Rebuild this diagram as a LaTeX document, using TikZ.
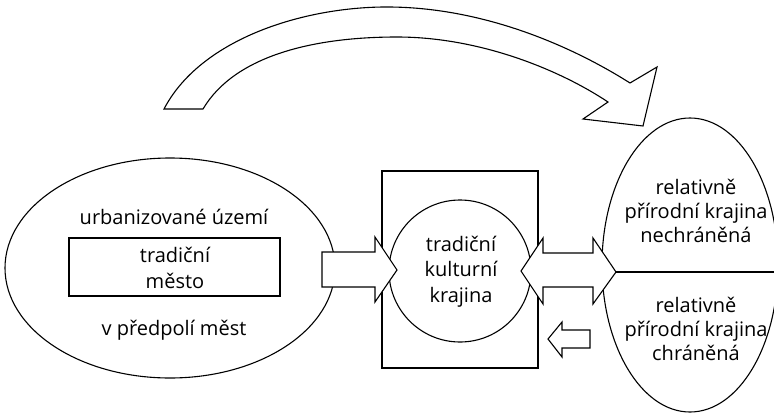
\documentclass[tikz,border=0pt]{standalone}
\usepackage{fontspec}
\setmainfont{Open Sans}
\usetikzlibrary{shapes.geometric}
\begin{document}
\begin{tikzpicture}[x=1pt,y=-1pt,line width=1.1pt,
  lbl/.style={align=center,inner sep=0pt,font=\fontsize{20}{25.3}\selectfont},
  rlbl/.style={align=center,inner sep=0pt,font=\fontsize{20}{24.2}\selectfont},
  outl/.style={draw,inner sep=0pt},
  blockarrow/.style={draw,fill=white,line join=miter}]
\useasboundingbox (0,0) rectangle (774,413);
% big curved arrow
\draw[blockarrow] (164,109) .. controls (200,40) and (300,8) .. (383,7)
  .. controls (480,6) and (570,45) .. (630,83) -- (657,67) -- (643,126)
  -- (583,119) -- (608,102) .. controls (560,70) and (480,37) .. (397,37)
  .. controls (315,37) and (235,55) .. (203,109) -- cycle;
% left ellipse
\node[outl,ellipse,minimum width=330pt,minimum height=220pt] (urb) at (170,268) {};
\node[outl,minimum width=211pt,minimum height=58pt] (mesto) at (174.5,267) {};
\node[lbl] (t1) at (174,217.3) {urbanizované území};
\node[lbl] (t2) at (175,268) {tradiční\\město};
\node[lbl] (t3) at (174,330.3) {v předpolí měst};
% central square and circle
\node[outl,minimum width=156pt,minimum height=197pt] (sq) at (460,269.5) {};
\node[outl,circle,minimum size=142pt] (kk) at (460,271) {};
\node[lbl] (t4) at (461,271.5) {tradiční\\kulturní\\krajina};
% right ellipse
\node[outl,ellipse,minimum width=176pt,minimum height=294pt] (pr) at (690,265) {};
\coordinate (split) at (616,272);
\draw (split) -- (pr.east |- split);
\node[rlbl] (t5) at (696,211) {relativně\\přírodní krajina\\nechráněná};
\node[rlbl] (t6) at (696,329) {relativně\\přírodní krajina\\chráněná};
% arrows
\draw[blockarrow] (322,252) -- (375,252) -- (375,237) -- (397,270)
  -- (375,302) -- (375,287) -- (322,287) -- cycle;
\draw[blockarrow] (521,271) -- (543,238) -- (543,253)
  -- (593,253) -- (593,238) -- (split) -- (593,304) -- (593,287)
  -- (543,287) -- (543,304) -- cycle;
\draw[blockarrow] (548,339) -- (562,322) -- (562,330) -- (590,330)
  -- (590,348) -- (562,348) -- (562,357) -- cycle;
\end{tikzpicture}
\end{document}
